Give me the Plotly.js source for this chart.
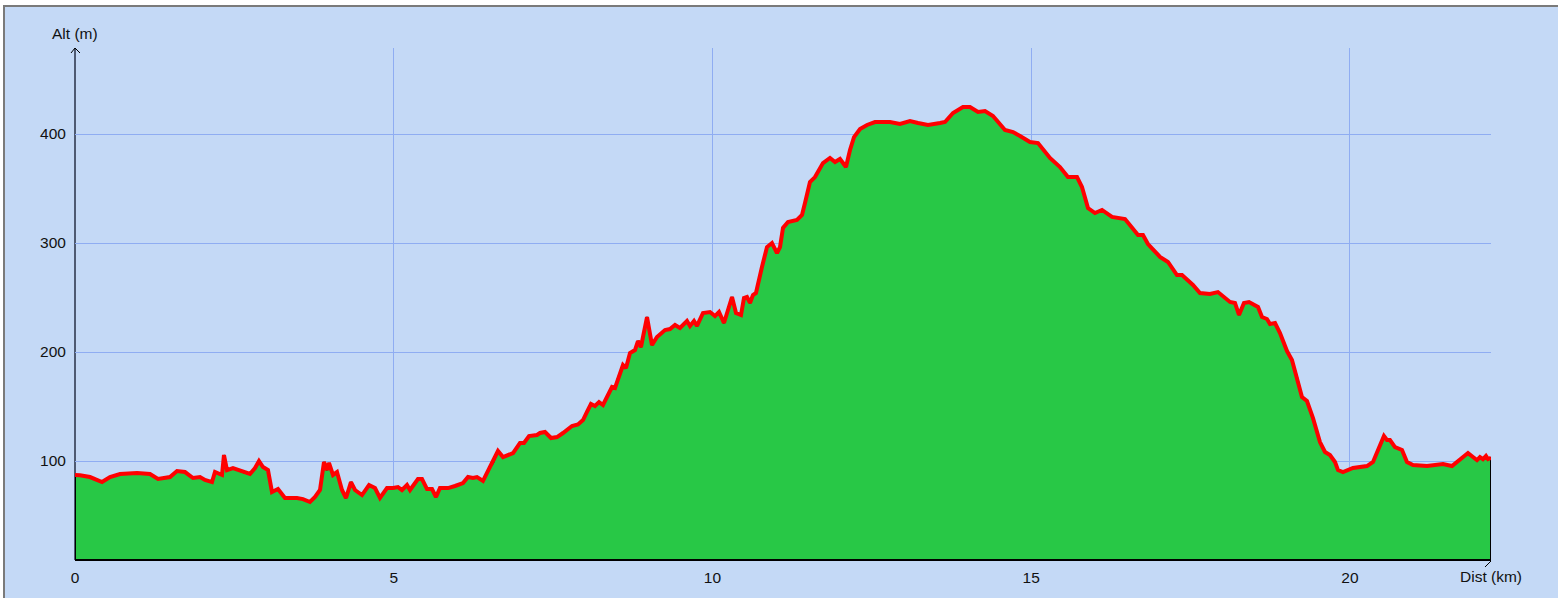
<!DOCTYPE html>
<html>
<head>
<meta charset="utf-8">
<script src="https://cdn.plot.ly/plotly-3.0.1.min.js"></script>
<style>
html,body{margin:0;padding:0;background:#ffffff;overflow:hidden;}
#frame{position:absolute;left:3px;top:5px;width:1555px;height:593px;border-left:2px solid #7a7a7a;border-top:2px solid #7a7a7a;overflow:hidden;background:#c4d9f6;}
#chart{width:1553px;height:591px;}
</style>
</head>
<body>
<div id="frame"><div id="chart"></div></div>
<script>
// Distance along the track (km)
const dist = [
0.000,0.078,0.235,0.424,0.549,0.706,0.973,1.176,1.302,1.490,1.600,1.725,1.851,1.961,2.039,2.149,2.196,2.306,2.337,2.384,
2.478,2.635,2.745,2.824,2.886,2.949,3.027,3.090,3.184,3.294,3.482,3.576,3.686,3.765,3.843,3.906,3.953,3.984,4.047,4.110,
4.188,4.251,4.329,4.392,4.502,4.612,4.706,4.784,4.894,4.988,5.067,5.129,5.208,5.255,5.380,5.443,5.522,5.600,5.663,5.725,
5.851,5.961,6.086,6.165,6.243,6.306,6.400,6.447,6.510,6.557,6.635,6.714,6.792,6.871,6.980,7.043,7.122,7.247,7.294,7.373,
7.467,7.561,7.655,7.796,7.890,7.969,8.031,8.094,8.157,8.220,8.282,8.361,8.424,8.471,8.518,8.596,8.643,8.706,8.784,8.831,
8.878,8.925,8.973,9.051,9.129,9.255,9.333,9.412,9.490,9.600,9.647,9.710,9.757,9.851,9.961,10.039,10.102,10.180,10.243,10.306,
10.369,10.447,10.494,10.541,10.588,10.635,10.682,10.714,10.776,10.855,10.933,11.012,11.059,11.106,11.184,11.325,11.404,11.451,11.529,11.608,
11.733,11.843,11.922,12.000,12.094,12.157,12.220,12.314,12.424,12.549,12.784,12.941,13.098,13.224,13.380,13.569,13.647,13.773,13.929,14.039,
14.165,14.275,14.400,14.588,14.714,14.824,14.980,15.106,15.294,15.451,15.576,15.718,15.796,15.890,16.000,16.110,16.267,16.471,16.675,16.753,
16.831,17.020,17.145,17.286,17.365,17.537,17.647,17.804,17.929,18.118,18.196,18.259,18.337,18.416,18.557,18.620,18.698,18.745,18.824,18.902,
19.012,19.090,19.169,19.247,19.325,19.420,19.529,19.608,19.686,19.765,19.812,19.890,20.047,20.267,20.361,20.439,20.533,20.580,20.627,20.706,
20.816,20.894,20.988,21.208,21.459,21.600,21.725,21.851,21.929,21.992,22.039,22.086,22.133,22.165,22.212
];
// Altitude (m)
const alt = [
87.2,87.0,85.3,80.7,85.3,88.1,89.0,88.1,83.5,85.3,90.8,89.9,84.4,85.3,82.6,80.7,89.9,87.2,105.5,91.7,
93.6,89.9,88.1,93.6,100.0,94.5,91.7,71.6,74.3,66.1,66.1,65.1,62.4,67.0,73.4,99.1,91.7,98.2,87.2,89.9,
73.4,66.1,80.7,73.4,68.8,78.0,75.2,66.1,75.2,75.2,76.1,73.4,78.0,73.4,83.5,83.5,74.3,74.3,67.0,75.2,
75.2,77.1,79.8,85.3,84.4,85.3,81.7,87.2,94.5,98.2,109.2,103.7,105.5,107.3,116.5,116.5,122.9,123.9,125.7,126.6,
121.1,122.0,125.7,132.1,133.5,137.6,145.0,152.3,150.5,154.1,151.4,160.6,167.9,167.0,176.1,188.1,185.3,199.1,201.8,210.1,
204.6,217.4,232.1,206.4,213.8,220.2,221.1,224.8,222.0,228.4,223.9,228.4,223.9,235.8,236.7,233.0,236.7,226.6,237.6,250.5,
235.8,233.9,249.5,250.5,245.0,252.3,254.1,263.3,278.0,296.3,300.0,290.8,296.3,313.8,319.3,321.1,325.7,336.7,356.0,360.5,
373.4,378.0,374.3,377.1,369.7,385.3,397.2,404.6,408.3,411.0,411.0,409.2,411.9,410.1,408.3,410.1,411.0,419.3,424.8,424.8,
420.2,421.1,416.5,403.7,401.8,398.2,392.7,391.7,378.0,369.7,360.5,360.5,351.4,332.1,327.5,330.3,323.9,322.0,307.3,307.3,
299.1,287.2,282.6,270.6,270.6,261.5,254.1,253.2,255.0,245.9,245.0,234.0,245.0,245.9,241.3,232.1,230.3,225.7,226.6,217.4,
200.9,192.7,177.1,158.7,155.0,139.4,117.4,108.3,105.5,99.1,91.7,89.9,93.6,95.4,99.1,110.1,122.9,119.3,119.3,112.8,
110.1,99.1,96.3,95.4,97.2,95.4,100.9,107.3,103.7,100.9,103.7,101.8,104.6,101.8,102.8
];
const xTicks = [0, 5, 10, 15, 20];
const yTicks = [100, 200, 300, 400];
const xTitle = 'Dist (km)';
const yTitle = 'Alt (m)';

const Y_MIN = 9.2, Y_MAX = 478.9;
const X_MIN = dist[0], X_MAX = dist[dist.length - 1];

const BG = '#c4d9f6';
const GRID = '#8fadf2';
const FONT = {family: '"Liberation Sans", Arial, sans-serif', size: 15.5, color: '#111111'};

// closed polygon built from the data and the axis base
const polyX = [dist[0]].concat(dist, [dist[dist.length - 1]]);
const polyY = [Y_MIN].concat(alt, [Y_MIN]);

const traces = [
  {x: polyX, y: polyY, type: 'scatter', mode: 'lines', fill: 'toself',
   fillcolor: '#28c846', line: {color: '#000000', width: 2}, hoverinfo: 'skip'},
  {x: dist, y: alt, type: 'scatter', mode: 'lines',
   line: {color: '#ff0000', width: 4}, hoverinfo: 'skip'}
];

const layout = {
  width: 1553, height: 591,
  margin: {l: 70, r: 67, t: 41, b: 38, pad: 0},
  paper_bgcolor: BG, plot_bgcolor: BG,
  showlegend: false,
  font: FONT,
  xaxis: {range: [X_MIN, X_MAX], tickvals: xTicks, ticktext: xTicks.map(String),
          showgrid: true, gridcolor: GRID, gridwidth: 1, zeroline: false, showline: false,
          ticks: 'outside', ticklen: 3, tickcolor: 'rgba(0,0,0,0)', tickfont: FONT, fixedrange: true},
  yaxis: {range: [Y_MIN, Y_MAX], tickvals: yTicks, ticktext: yTicks.map(String),
          showgrid: true, gridcolor: GRID, gridwidth: 1, zeroline: false, showline: false,
          ticks: 'outside', ticklen: 5, tickcolor: 'rgba(0,0,0,0)', tickfont: FONT, fixedrange: true},
  shapes: [
    // y axis line
    {type: 'line', xref: 'paper', yref: 'paper', x0: 0, x1: 0, y0: 0, y1: 1,
     line: {color: '#4e5a72', width: 2}, layer: 'below'},
    // arrow head at top of y axis
    {type: 'line', xref: 'paper', yref: 'paper', xsizemode: 'pixel', ysizemode: 'pixel',
     xanchor: 0, yanchor: 1, x0: 0, x1: -4, y0: 0, y1: -5, line: {color: '#000', width: 1}},
    {type: 'line', xref: 'paper', yref: 'paper', xsizemode: 'pixel', ysizemode: 'pixel',
     xanchor: 0, yanchor: 1, x0: 0, x1: 5, y0: 0, y1: -5, line: {color: '#000', width: 1}},
    // x axis line
    {type: 'line', xref: 'paper', yref: 'paper', x0: 0, x1: 1, y0: 0, y1: 0,
     line: {color: '#000000', width: 2}},
    // small mark at end of x axis
    {type: 'line', xref: 'paper', yref: 'paper', xsizemode: 'pixel', ysizemode: 'pixel',
     xanchor: 1, yanchor: 0, x0: 0, x1: -6, y0: -1, y1: -7, line: {color: '#000', width: 1}}
  ],
  annotations: [
    {text: yTitle, xref: 'paper', yref: 'paper', x: 0, y: 1, xanchor: 'center', yanchor: 'bottom',
     yshift: 4, showarrow: false, font: FONT},
    {text: xTitle, xref: 'paper', yref: 'paper', x: 1, y: 0, xanchor: 'center', yanchor: 'top',
     yshift: -6, showarrow: false, font: FONT}
  ]
};

Plotly.newPlot('chart', traces, layout, {staticPlot: true, displayModeBar: false});
</script>
</body>
</html>
